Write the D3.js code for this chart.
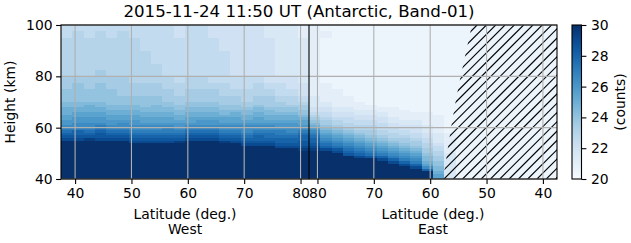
<!DOCTYPE html>
<html>
<head>
<meta charset="utf-8">
<script src="https://cdn.jsdelivr.net/npm/d3@7"></script>
<style>
  body { margin: 0; background: #fff; }
  text { font-family: "DejaVu Sans", sans-serif; }
</style>
</head>
<body>
<script>
// ---- data ----
var title = "2015-11-24 11:50 UT (Antarctic, Band-01)";

// column centres (deg), each column 2 deg wide
var westLat = [38.5, 40.5, 42.5, 44.5, 46.5, 48.5, 50.5, 52.5, 54.5, 56.5, 58.5,
               60.5, 62.5, 64.5, 66.5, 68.5, 70.5, 72.5, 74.5, 76.5, 78.5, 80.5];
var eastLat = [80.5, 78.5, 76.5, 74.5, 72.5, 70.5, 68.5, 66.5, 64.5, 62.5, 60.5,
               58.5, 56.5, 54.5, 52.5, 50.5, 48.5, 46.5, 44.5, 42.5, 40.5, 38.5];

// row edges (km), top to bottom
var heightEdges = [100, 97.5, 95, 92.5, 90, 87.5, 85, 82.5, 80, 77.5, 75, 72.5,
                   70, 69, 68, 67, 66, 65, 64, 63, 62, 61, 60, 59, 58, 57, 56, 55,
                   54, 53, 52, 51, 50, 49, 48, 47, 46, 45, 44, 43, 42, 41, 40];

// count codes: a=20, b=20.5 ... u=30 (steps of 0.5); one string per column, top to bottom
var levels = "abcdefghijklmnopqrstu";
var westCounts = [
  "ffgggggg|hhii|jjkkkllmmn|opqrs|uuuuu|uuuuu|uuuuu",
  "fggggggg|hiii|jjkkllmmnn|oqqrs|uuuuu|uuuuu|uuuuu",
  "ffgggggg|hhii|jkkkllmmnn|opqrt|uuuuu|uuuuu|uuuuu",
  "fggggggh|hiii|jjkkllmmno|pqrrs|uuuuu|uuuuu|uuuuu",
  "ffgggggg|hhii|ijjkkllmmn|opqrs|uuuuu|uuuuu|uuuuu",
  "fggggggg|hhhi|ijjkkllmnn|opqrs|uuuuu|uuuuu|uuuuu",
  "ffgggggg|ghhi|ijjkkllmmn|nopqr|suuuu|uuuuu|uuuuu",
  "ffffgggg|ghhi|iijjkkllmn|nopqr|suuuu|uuuuu|uuuuu",
  "ffffffgg|ghhi|ijjjkkllmn|nopqr|suuuu|uuuuu|uuuuu",
  "ffffffff|gghh|iijjkkllmn|oopqr|suuuu|uuuuu|uuuuu",
  "eeffffff|fggh|hiijjkklmm|nopqr|tuuuu|uuuuu|uuuuu",
  "ffffffff|gghh|iijjkkllmn|opqrs|uuuuu|uuuuu|uuuuu",
  "ffffffff|gghh|iijjkklmmn|opqrs|uuuuu|uuuuu|uuuuu",
  "eeffffff|fghh|iijjkklmmn|opqrs|uuuuu|uuuuu|uuuuu",
  "eeeeffff|fggh|hiijjkllmn|nopqr|tuuuu|uuuuu|uuuuu",
  "eeeeeeee|ffgh|hiijkkllmn|nopqr|suuuu|uuuuu|uuuuu",
  "eeeeeeee|ffgg|hhijjkklmn|nnopq|rsuuu|uuuuu|uuuuu",
  "eeeeeeee|fggh|hijjkkllmn|nopqq|rsuuu|uuuuu|uuuuu",
  "ddeeeeee|efgh|hhijjkklmn|noppq|rsuuu|uuuuu|uuuuu",
  "dddddddd|effg|hhiijkklmm|noopq|qrsuu|uuuuu|uuuuu",
  "dddddddd|eefg|ghiijkklmm|nnopq|qrsuu|uuuuu|uuuuu",
  "ccdddddd|deef|ghhiijkllm|nopqq|rrstu|uuuuu|uuuuu"
];
var eastCounts = [
  "cccccccc|cccd|ddeefghijk|mnopq|qrstu|uuuuu|uuuuu",
  "bcbbbbbb|bccc|ddeeffghhi|jklmn|opqsu|uuuuu|uuuuu",
  "bbbbbbbb|bbcc|ccddeefggh|ijklm|noprs|uuuuu|uuuuu",
  "bbbbbbbb|bbbc|ccddeeffgg|hijkl|mnopq|ruuuu|uuuuu",
  "bbbbbbbb|bbbb|cccddeeffg|ghijk|lmnop|qsuuu|uuuuu",
  "bbbbbbbb|bbbb|bccddeeffg|ghhij|klmno|pruuu|uuuuu",
  "bbbbbbbb|bbbb|bbccddeeff|fgghi|jklmn|oqsuu|uuuuu",
  "bbbbbbbb|bbbb|bbccccddee|ffggh|ijklm|noqsu|uuuuu",
  "bbbbbbbb|bbbb|bbbccccdde|effgh|hijkl|mnoqs|uuuuu",
  "bbbbbbbb|bbbb|bbbbcccdde|eeffg|hhijk|lmnoq|suuuu",
  "bbbbbbbb|bbbb|bbbbcccccd|ddeef|fgghh|ijjkl|nquuu",
  "bbbbbbbb|bbbb|bbbbbccccc|ccddd|deffg|ghhii|jjkll",
  "bbbbbbbb|bbbb|bbbbbbbbbb|bbccc|ccccc|ddddd|ddddd",
  "bbbbbbbb|bbbb|bbbbbbbbbb|bbbbb|bbbbb|bbbbb|bbbbb",
  "bbbbbbbb|bbbb|bbbbbbbbbb|bbbbb|bbbbb|bbbbb|bbbbb",
  "bbbbbbbb|bbbb|bbbbbbbbbb|bbbbb|bbbbb|bbbbb|bbbbb",
  "bbbbbbbb|bbbb|bbbbbbbbbb|bbbbb|bbbbb|bbbbb|bbbbb",
  "bbbbbbbb|bbbb|bbbbbbbbbb|bbbbb|bbbbb|bbbbb|bbbbb",
  "bbbbbbbb|bbbb|bbbbbbbbbb|bbbbb|bbbbb|bbbbb|bbbbb",
  "bbbbbbbb|bbbb|bbbbbbbbbb|bbbbb|bbbbb|bbbbb|bbbbb",
  "bbbbbbbb|bbbb|bbbbbbbbbb|bbbbb|bbbbb|bbbbb|bbbbb",
  "bbbbbbbb|bbbb|bbbbbbbbbb|bbbbb|bbbbb|bbbbb|bbbbb"
];

// left edge of the hatched (masked) area on the east side
var hatchHeight = [40, 50, 60, 70, 80, 90, 100];
var hatchLat = [57.7, 57.0, 56.3, 55.5, 54.6, 53.6, 52.6];

var westTicks = [40, 50, 60, 70, 80];
var eastTicks = [80, 70, 60, 50, 40];
var heightTicks = [40, 60, 80, 100];
var countTicks = [20, 22, 24, 26, 28, 30];

// ---- layout ----
var width = 631, height = 243;
var plotL = 61, plotR = 557, plotT = 25, plotB = 179;
var pole = 81.5;       // where the two halves meet
var edgeLat = 37.5;    // outer latitude on both sides
var cbLeft = 572, cbWidth = 9.5;
var fs = 13.9;

var svg = d3.select("body").append("svg")
    .attr("width", width)
    .attr("height", height);

var xAll = d3.scaleLinear().domain([edgeLat, 2 * pole - edgeLat]).range([plotL, plotR]);
var xWest = d3.scaleLinear().domain([edgeLat, pole]).range([plotL, xAll(pole)]);
var xEast = d3.scaleLinear().domain([pole, edgeLat]).range([xAll(pole), plotR]);
var y = d3.scaleLinear().domain([40, 100]).range([plotB, plotT]);
var color = d3.scaleSequential(d3.interpolateBlues).domain([20, 30]).clamp(true);

// build cells
var cells = [];
function addSide(lats, profiles, sx) {
  lats.forEach(function(c, i) {
    var codes = profiles[i].replace(/\|/g, "");
    var xa = sx(c - 1), xb = sx(c + 1);
    for (var r = 0; r < heightEdges.length - 1; r++) {
      cells.push({
        x0: Math.min(xa, xb),
        x1: Math.max(xa, xb),
        h0: heightEdges[r + 1],
        h1: heightEdges[r],
        v: 20 + 0.5 * levels.indexOf(codes[r])
      });
    }
  });
}
addSide(westLat, westCounts, xWest);
addSide(eastLat, eastCounts, xEast);

var defs = svg.append("defs");
defs.append("clipPath").attr("id", "plotclip")
  .append("rect").attr("x", plotL).attr("y", plotT)
  .attr("width", plotR - plotL).attr("height", plotB - plotT);

svg.append("g").attr("clip-path", "url(#plotclip)")
  .selectAll("rect")
  .data(cells)
  .join("rect")
    .attr("x", d => d.x0)
    .attr("y", d => y(d.h1))
    .attr("width", d => d.x1 - d.x0 + 0.4)
    .attr("height", d => y(d.h0) - y(d.h1) + 0.4)
    .attr("fill", d => color(d.v))
    .attr("shape-rendering", "crispEdges");

// hatched area
var hatchPts = hatchHeight.map((h, i) => [xEast(hatchLat[i]), y(h)]);
hatchPts.push([plotR, plotT], [plotR, plotB]);
defs.append("clipPath").attr("id", "hatchclip")
  .append("polygon").attr("points", hatchPts.map(p => p.join(",")).join(" "));

var step = 9.3, span = plotB - plotT;
var hatchLines = d3.range(-25, 20).map(k => 444 + k * step);
svg.append("g").attr("clip-path", "url(#hatchclip)")
  .selectAll("line")
  .data(hatchLines)
  .join("line")
    .attr("x1", d => d).attr("y1", plotB)
    .attr("x2", d => d + span).attr("y2", plotT)
    .attr("stroke", "#000")
    .attr("stroke-width", 1.1);

// grid
var grid = svg.append("g").attr("stroke", "#b0b0b0").attr("stroke-width", 1.1);
westTicks.forEach(function(t) {
  grid.append("line").attr("x1", xWest(t)).attr("x2", xWest(t)).attr("y1", plotT).attr("y2", plotB);
});
eastTicks.forEach(function(t) {
  grid.append("line").attr("x1", xEast(t)).attr("x2", xEast(t)).attr("y1", plotT).attr("y2", plotB);
});
heightTicks.forEach(function(t) {
  grid.append("line").attr("x1", plotL).attr("x2", plotR).attr("y1", y(t)).attr("y2", y(t));
});

// pole line
svg.append("line")
  .attr("x1", xAll(pole)).attr("x2", xAll(pole))
  .attr("y1", plotT).attr("y2", plotB)
  .attr("stroke", "#000").attr("stroke-width", 1.1);

// axes
function styleAxis(g) {
  g.select(".domain").remove();
  g.selectAll("text").attr("font-size", fs).attr("font-family", "DejaVu Sans").attr("fill", "#000");
  g.selectAll("line").attr("stroke", "#000").attr("stroke-width", 1.1);
}
svg.append("g").attr("transform", `translate(0,${plotB})`)
  .call(d3.axisBottom(xWest).tickValues(westTicks).tickSize(4.9).tickPadding(4.6).tickFormat(d3.format("d")))
  .call(styleAxis);
svg.append("g").attr("transform", `translate(0,${plotB})`)
  .call(d3.axisBottom(xEast).tickValues(eastTicks).tickSize(4.9).tickPadding(4.6).tickFormat(d3.format("d")))
  .call(styleAxis);
svg.append("g").attr("transform", `translate(${plotL},0)`)
  .call(d3.axisLeft(y).tickValues(heightTicks).tickSize(4.9).tickPadding(3.5).tickFormat(d3.format("d")))
  .call(styleAxis);

// frame
svg.append("rect")
  .attr("x", plotL).attr("y", plotT)
  .attr("width", plotR - plotL).attr("height", plotB - plotT)
  .attr("fill", "none").attr("stroke", "#000").attr("stroke-width", 1.1);

// labels
svg.append("text").attr("x", 299).attr("y", 16.5)
  .attr("text-anchor", "middle").attr("font-size", 16.67).text(title);
[["West", xWest], ["East", xEast]].forEach(function(s) {
  var cx = (s[1].range()[0] + s[1].range()[1]) / 2;
  svg.append("text").attr("x", cx).attr("y", 218.5)
    .attr("text-anchor", "middle").attr("font-size", fs).text("Latitude (deg.)");
  svg.append("text").attr("x", cx).attr("y", 234)
    .attr("text-anchor", "middle").attr("font-size", fs).text(s[0]);
});
svg.append("text")
  .attr("transform", `translate(15,${(plotT + plotB) / 2}) rotate(-90)`)
  .attr("text-anchor", "middle").attr("font-size", fs).text("Height (km)");

// colorbar
var cy = d3.scaleLinear().domain([20, 30]).range([plotB, plotT]);
var grad = defs.append("linearGradient").attr("id", "cbgrad")
  .attr("x1", 0).attr("y1", 1).attr("x2", 0).attr("y2", 0);
d3.range(0, 1.0001, 0.05).forEach(function(t) {
  grad.append("stop").attr("offset", t).attr("stop-color", d3.interpolateBlues(t));
});
svg.append("rect")
  .attr("x", cbLeft).attr("y", plotT)
  .attr("width", cbWidth).attr("height", plotB - plotT)
  .attr("fill", "url(#cbgrad)")
  .attr("stroke", "#000").attr("stroke-width", 1.1);
svg.append("g").attr("transform", `translate(${cbLeft + cbWidth},0)`)
  .call(d3.axisRight(cy).tickValues(countTicks).tickSize(4.9).tickPadding(4.6).tickFormat(d3.format("d")))
  .call(styleAxis);
svg.append("text")
  .attr("transform", `translate(625,${(plotT + plotB) / 2}) rotate(-90)`)
  .attr("text-anchor", "middle").attr("font-size", fs).text("(counts)");
</script>
</body>
</html>
